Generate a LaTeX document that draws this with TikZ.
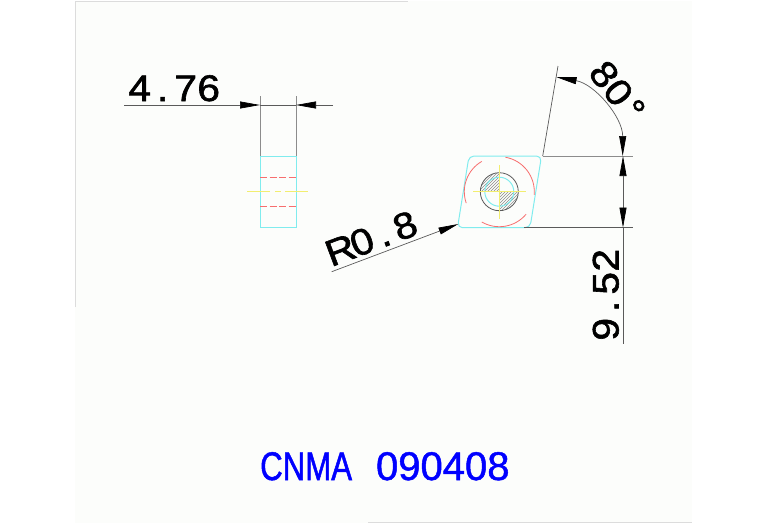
\documentclass[tikz,border=0pt]{standalone}
\usepackage{fontspec}
\usetikzlibrary{arrows.meta}
\setmainfont{Liberation Sans}
\newfontfamily\dimfont[FakeStretch=1.1,FakeBold=1.6]{Liberation Sans}
\newfontfamily\titlefont[FakeStretch=0.78,FakeBold=1.2]{Liberation Sans}
\newfontfamily\titledigits[FakeBold=1.2]{Liberation Sans}
\newcommand{\mch}[1]{\makebox[23pt]{#1}}
\definecolor{paper}{HTML}{FCFDFB}
\definecolor{edgegray}{HTML}{DCDCDC}
\definecolor{dimgray}{HTML}{5A5A5A}
\definecolor{extgray}{HTML}{8C8C8C}
\definecolor{cyanline}{HTML}{80ECEE}
\definecolor{redline}{HTML}{F76E6E}
\definecolor{yellowline}{HTML}{F2EE70}
\tikzset{
  dimline/.style={draw=dimgray,line width=0.7pt},
  extline/.style={draw=extgray,line width=0.8pt},
  tipped/.style={dimline,-{Triangle[length=20pt,width=7pt,fill=black,color=black]}},
  twotipped/.style={dimline,{Triangle[length=20pt,width=7pt,fill=black,color=black]}-{Triangle[length=20pt,width=7pt,fill=black,color=black]}},
  cyanpart/.style={draw=cyanline,line width=1pt},
  redpart/.style={draw=redline,line width=0.8pt},
  yellowpart/.style={draw=yellowline,line width=0.7pt},
  dimtext/.style={font=\dimfont\fontsize{37}{37}\selectfont,text=black,inner sep=0pt,anchor=base west},
  edgeline/.style={draw=edgegray,line width=0.8pt}
}
\begin{document}
\begin{tikzpicture}[x=1pt,y=-1pt]
\useasboundingbox (0,0) rectangle (767,523);
\fill[paper] (75,1) rectangle (692,523);
\draw[edgeline] (75,307) -- (75,1.5) -- (408,1.5);
\draw[edgeline] (368,522.5) -- (692,522.5);

% side view
\coordinate (sl) at (260,156);
\coordinate (sr) at (296,156);
\coordinate (slb) at (260,227.5);
\coordinate (srb) at (296,227.5);
\coordinate (sle) at (260,96);
\coordinate (sre) at (296,96);
\coordinate (dl) at (260,105);
\coordinate (dr) at (296,105);
\coordinate (dlf) at (124,105);
\coordinate (drf) at (333,105);
\draw[extline] (sle) -- (sl);
\draw[extline] (sre) -- (sr);
\draw[tipped] (dlf) -- (dl);
\draw[dimline] (dl) -- (dr);
\draw[tipped] (drf) -- (dr);
\draw[cyanpart] (sl) -- (sr) -- (srb) -- (slb) -- cycle;
\draw[redline,line width=0.7pt,dash pattern=on 7pt off 2.5pt] (260,177.5) -- (296,177.5);
\draw[redline,line width=0.7pt,dash pattern=on 7pt off 2.5pt] (260,206.5) -- (296,206.5);
\draw[yellowpart,dash pattern=on 23pt off 5pt on 6pt off 4pt] (247,191.7) -- (309,191.7);
\node[dimtext] (w) at (128,101) {\mch{4}\mch{.}\mch{7}\mch{6}};

% top view
\coordinate (c) at (499.3,191.7);
\draw[cyanpart,rounded corners=5pt] (469,156) -- (541.5,156) -- (530,227.7) -- (457.5,227.7) -- cycle;
\draw[redpart] (c) ++(120:35pt) arc[start angle=120,end angle=199,radius=35pt];
\draw[redpart] (c) ++(80:35pt) arc[start angle=80,end angle=-5,radius=35pt];
\draw[redpart] (c) ++(240:35pt) arc[start angle=240,end angle=320,radius=35pt];
\begin{scope}
\clip (c) -- ++(180:19pt) arc[start angle=180,end angle=90,radius=19pt] -- cycle;
\foreach \d in {-42,-39,...,42} \draw[extgray,line width=0.6pt,shift={(c)}] (\d-25,25) -- (\d+25,-25);
\end{scope}
\begin{scope}
\clip (c) -- ++(0:19pt) arc[start angle=0,end angle=-90,radius=19pt] -- cycle;
\foreach \d in {-42,-39,...,42} \draw[extgray,line width=0.6pt,shift={(c)}] (\d-25,25) -- (\d+25,-25);
\end{scope}
\draw[cyanpart] (c) circle[radius=14.5pt];
\draw[draw=dimgray,line width=0.8pt] (c) circle[radius=19pt];
\draw[yellowpart] (473,191.7) -- (526,191.7);
\draw[yellowpart] (499.3,165) -- (499.3,219);

% dimensions of top view
\coordinate (a0) at (542.7,156);
\coordinate (a1) at (558,66);
\coordinate (e1) at (633,156);
\coordinate (e2a) at (524,227.6);
\coordinate (e2) at (633,227.6);
\coordinate (v1) at (623,156);
\coordinate (v2) at (623,227.6);
\coordinate (v3) at (623,344);
\coordinate (v1m) at (623,176);
\coordinate (v2m) at (623,208);
\coordinate (as) at (622.7,156);
\draw[dimline] (a0) -- (a1);
\draw[extline] (a0) -- (e1);
\draw[dimline] (e2a) -- (e2);
\draw[tipped] (v1m) -- (v1);
\draw[dimline] (v1m) -- (v2m);
\draw[tipped] (v2m) -- (v2);
\draw[dimline] (v2) -- (v3);
\draw[twotipped] (as) arc[start angle=0,end angle=80,radius=80pt];
\coordinate (rs) at (331.7,271.7);
\coordinate (rt) at (458.3,224);
\draw[tipped] (rs) -- (rt);
\node[dimtext,rotate=20.6] (r) at (334,266) {\mch{R}\mch{0}\mch{.}\mch{8}};
\node[dimtext,rotate=90] (h) at (618.5,341) {\mch{9}\mch{.}\mch{5}\mch{2}};
\node[dimtext,rotate=-52] (ang) at (587,73) {\mch{8}\mch{0}\mch{°}};

\node[text=blue,inner sep=0pt,anchor=base west] (t) at (260,480) {\titlefont\fontsize{40}{40}\selectfont CNMA\hspace{24pt}\titledigits\fontsize{40}{40}\selectfont 090408};
\end{tikzpicture}
\end{document}
